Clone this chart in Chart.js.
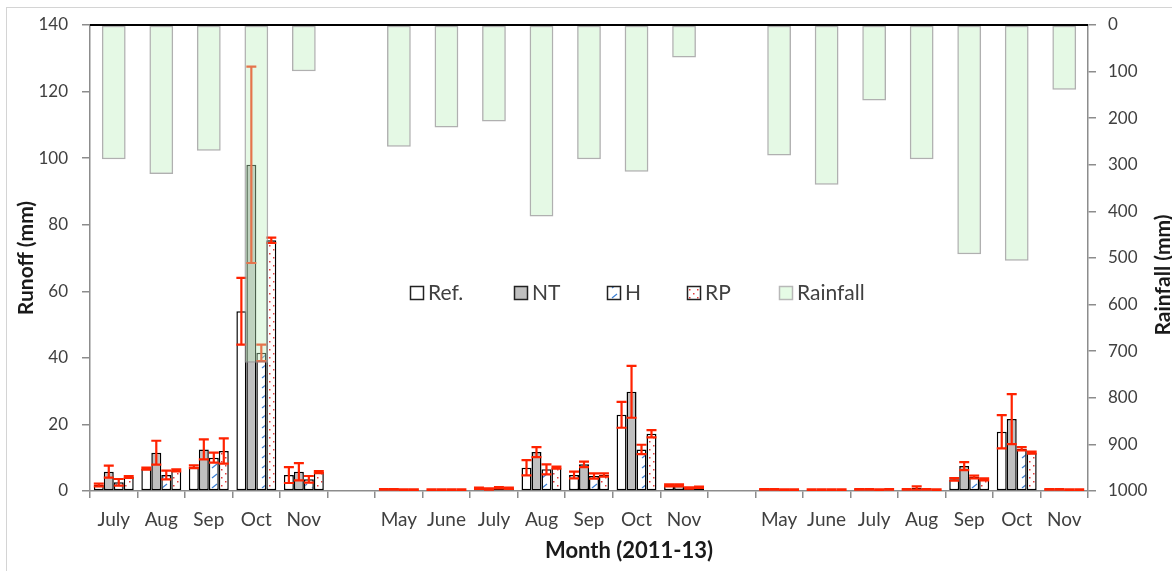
<!DOCTYPE html>
<html>
<head>
<meta charset="utf-8">
<script src="https://cdn.jsdelivr.net/npm/chart.js@4.4.1/dist/chart.umd.min.js"></script>
<style>
  html, body { margin: 0; padding: 0; background: #fff; }
</style>
</head>
<body>
<canvas id="chart" width="1172" height="571"></canvas>
<script>
// months, with an empty slot between the three seasons
const months = ['July', 'Aug', 'Sep', 'Oct', 'Nov', '',
  'May', 'June', 'July', 'Aug', 'Sep', 'Oct', 'Nov', '',
  'May', 'June', 'July', 'Aug', 'Sep', 'Oct', 'Nov'];

// runoff (mm)
const refRunoff = [1.8, 6.7, 7.3, 54, 4.8, null, 0.5, 0.4, 0.8, 7, 4.8, 22.9, 1.7, null, 0.5, 0.4, 0.5, 0.5, 3.5, 17.8, 0.5];
const ntRunoff  = [5.8, 11.5, 12.5, 98, 5.8, null, 0.5, 0.4, 0.6, 11.7, 8, 29.8, 1.7, null, 0.5, 0.4, 0.5, 0.9, 7.5, 21.6, 0.5];
const hRunoff   = [2.6, 4.8, 10, 41.5, 3.5, null, 0.4, 0.4, 1.0, 6.5, 4.5, 12.5, 0.9, null, 0.4, 0.4, 0.4, 0.5, 4.2, 12.7, 0.4];
const rpRunoff  = [4.2, 6.2, 12, 75.3, 5.7, null, 0.4, 0.4, 0.8, 7, 4.8, 17.2, 1.1, null, 0.4, 0.4, 0.5, 0.4, 3.5, 11.5, 0.4];

// error (+/- mm)
const refErr = [0.4, 0.3, 0.4, 10, 2.4, null, 0.1, 0.1, 0.2, 2.3, 1, 3.9, 0.3, null, 0.1, 0.1, 0.1, 0.1, 0.4, 5, 0.1];
const ntErr  = [1.8, 3.6, 3, 29.5, 2.6, null, 0.1, 0.1, 0.2, 1.5, 0.8, 7.8, 0.3, null, 0.1, 0.1, 0.1, 0.5, 1.2, 7.5, 0.1];
const hErr   = [1.0, 1.3, 1.5, 2.5, 1.0, null, 0.1, 0.1, 0.2, 1.5, 0.8, 1.4, 0.2, null, 0.1, 0.1, 0.1, 0.1, 0.4, 0.5, 0.1];
const rpErr  = [0.3, 0.3, 3.8, 0.8, 0.3, null, 0.1, 0.1, 0.2, 0.3, 0.5, 1.1, 0.2, null, 0.1, 0.1, 0.1, 0.1, 0.3, 0.3, 0.1];

// rainfall (mm), right axis
const rainfall = [288, 320, 270, 725, 99, null, 261, 220, 207, 411, 288, 315, 70, null, 280, 343, 162, 288, 492, 506, 139];

const runoffTicks = [0, 20, 40, 60, 80, 100, 120, 140];
const rainTicks = [0, 100, 200, 300, 400, 500, 600, 700, 800, 900, 1000];

const FONT = 'Lato, "Open Sans", sans-serif';

function hatchPattern() {
  const c = document.createElement('canvas');
  c.width = 10; c.height = 10;
  const g = c.getContext('2d');
  g.fillStyle = '#fff';
  g.fillRect(0, 0, 10, 10);
  g.strokeStyle = '#3b7fd4';
  g.lineWidth = 1.2;
  g.beginPath();
  g.moveTo(2, 8);
  g.lineTo(7, 4);
  g.stroke();
  return g.createPattern(c, 'repeat');
}

function dotPattern() {
  const c = document.createElement('canvas');
  c.width = 8; c.height = 8;
  const g = c.getContext('2d');
  g.fillStyle = '#fff';
  g.fillRect(0, 0, 8, 8);
  g.fillStyle = '#e23b3b';
  g.fillRect(1, 1, 1.5, 1.5);
  g.fillRect(5, 5, 1.5, 1.5);
  return g.createPattern(c, 'repeat');
}

const hatch = hatchPattern();
const dots = dotPattern();

function runoffSet(label, data, errors, fill) {
  return {
    label: label,
    data: data,
    errors: errors,
    yAxisID: 'y',
    backgroundColor: fill,
    borderColor: '#000',
    borderWidth: 1.5,
    borderSkipped: false,
    categoryPercentage: 0.84,
    barPercentage: 1
  };
}

// error bars, drawn right after each runoff series so rainfall sits above them
const errorBars = {
  id: 'errorBars',
  afterDatasetDraw(chart, args) {
    const ds = chart.data.datasets[args.index];
    if (!ds.errors) return;
    const y = chart.scales.y;
    const ctx = chart.ctx;
    ctx.save();
    ctx.strokeStyle = '#ff2200';
    ctx.lineWidth = 2.2;
    args.meta.data.forEach((bar, i) => {
      const v = ds.data[i], e = ds.errors[i];
      if (v == null || e == null) return;
      const top = y.getPixelForValue(v + e);
      const bot = y.getPixelForValue(Math.max(0, v - e));
      const x = bar.x, w = 5;
      ctx.beginPath();
      ctx.moveTo(x, top); ctx.lineTo(x, bot);
      ctx.moveTo(x - w, top); ctx.lineTo(x + w, top);
      ctx.moveTo(x - w, bot); ctx.lineTo(x + w, bot);
      ctx.stroke();
    });
    ctx.restore();
  }
};

// outer frame, top line, titles and the in-plot legend
const decor = {
  id: 'decor',
  beforeDraw(chart) {
    const ctx = chart.ctx;
    ctx.save();
    ctx.strokeStyle = '#d4d4d4';
    ctx.lineWidth = 1;
    ctx.strokeRect(6.5, 7.5, 1200, 600);
    ctx.restore();
  },
  afterDraw(chart) {
    const ctx = chart.ctx;
    const a = chart.chartArea;
    ctx.save();
    ctx.strokeStyle = '#000';
    ctx.lineWidth = 2;
    ctx.beginPath();
    ctx.moveTo(a.left, a.top);
    ctx.lineTo(a.right, a.top);
    ctx.stroke();

    ctx.fillStyle = '#1a1a1a';
    ctx.textAlign = 'center';
    ctx.textBaseline = 'middle';
    ctx.font = 'bold 22px ' + FONT;
    ctx.fillText('Month (2011-13)', 629, 551);

    // right axis title reads bottom to top like the left one
    ctx.save();
    ctx.translate(1163, 275);
    ctx.rotate(-Math.PI / 2);
    ctx.font = 'bold 21px ' + FONT;
    ctx.fillText('Rainfall (mm)', 0, 0);
    ctx.restore();

    const items = [
      { x: 410, text: 'Ref.', fill: '#fff', stroke: '#222' },
      { x: 514, text: 'NT', fill: '#c0c0c0', stroke: '#222' },
      { x: 607, text: 'H', fill: hatch, stroke: '#222' },
      { x: 687, text: 'RP', fill: dots, stroke: '#222' },
      { x: 779, text: 'Rainfall', fill: '#e5fbe5', stroke: '#b8b8b8' }
    ];
    ctx.font = '21px ' + FONT;
    ctx.textAlign = 'left';
    items.forEach(it => {
      ctx.fillStyle = it.fill;
      ctx.fillRect(it.x, 286, 13, 13);
      ctx.strokeStyle = it.stroke;
      ctx.lineWidth = 1.5;
      ctx.strokeRect(it.x + 0.5, 286.5, 13, 13);
      ctx.fillStyle = '#404040';
      ctx.fillText(it.text, it.x + 18, 293);
    });
    ctx.restore();
  }
};

new Chart(document.getElementById('chart'), {
  type: 'bar',
  data: {
    labels: months,
    datasets: [
      runoffSet('Ref.', refRunoff, refErr, '#ffffff'),
      runoffSet('NT', ntRunoff, ntErr, '#c0c0c0'),
      runoffSet('H', hRunoff, hErr, hatch),
      runoffSet('RP', rpRunoff, rpErr, dots),
      {
        label: 'Rainfall',
        data: rainfall,
        yAxisID: 'y2',
        grouped: false,
        order: -1,
        backgroundColor: 'rgba(190,240,190,0.4)',
        borderColor: 'rgba(150,150,150,0.75)',
        borderWidth: 1.5,
        borderSkipped: false,
        categoryPercentage: 0.5,
        barPercentage: 1
      }
    ]
  },
  options: {
    responsive: false,
    animation: false,
    layout: { padding: { top: 25, left: 0, right: 0, bottom: 0 } },
    plugins: {
      legend: { display: false },
      tooltip: { enabled: false }
    },
    scales: {
      x: {
        afterFit(s) { s.height = 80; },
        grid: { drawOnChartArea: false, tickLength: 7, color: '#8c8c8c', lineWidth: 1.5, offset: true },
        border: { color: '#8c8c8c', width: 1.5 },
        ticks: { color: '#404040', font: { family: FONT, size: 19 }, padding: 10, autoSkip: false, maxRotation: 0 },
        title: { display: false }
      },
      y: {
        position: 'left',
        min: 0,
        max: 140,
        afterFit(s) { s.width = 90; },
        afterBuildTicks(s) { s.ticks = runoffTicks.map(v => ({ value: v })); },
        grid: { drawOnChartArea: false, tickLength: 8, color: '#8c8c8c', lineWidth: 1.5 },
        border: { color: '#8c8c8c', width: 1.5 },
        ticks: { color: '#404040', font: { family: FONT, size: 17 }, padding: 14 },
        title: { display: true, text: 'Runoff (mm)', color: '#1a1a1a', font: { family: FONT, size: 21, weight: 'bold' }, padding: { top: 14, bottom: 0 } }
      },
      y2: {
        position: 'right',
        reverse: true,
        min: 0,
        max: 1000,
        afterFit(s) { s.width = 84; },
        afterBuildTicks(s) { s.ticks = rainTicks.map(v => ({ value: v })); },
        grid: { drawOnChartArea: false, tickLength: 8, color: '#8c8c8c', lineWidth: 1.5 },
        border: { color: '#8c8c8c', width: 1.5 },
        ticks: { color: '#404040', font: { family: FONT, size: 17 }, padding: 12, callback: v => String(v) },
        title: { display: false }
      }
    }
  },
  plugins: [errorBars, decor]
});
</script>
</body>
</html>
